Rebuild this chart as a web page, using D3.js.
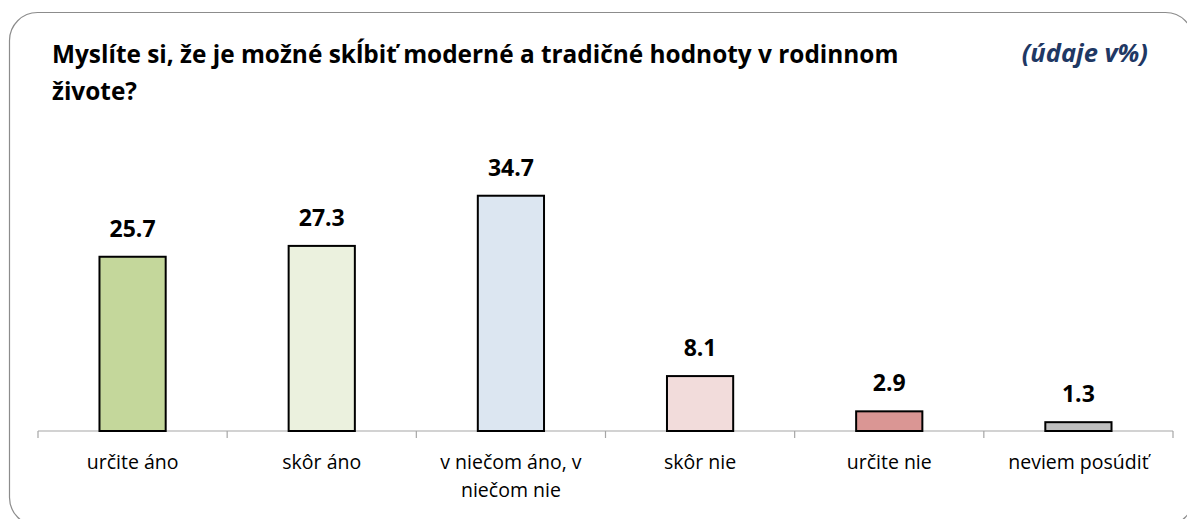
<!DOCTYPE html>
<html>
<head>
<meta charset="utf-8">
<script src="https://cdn.jsdelivr.net/npm/d3@7"></script>
<style>
  body { margin: 0; background: #fff; }
  svg { display: block; }
</style>
</head>
<body>
<script>
// dáta grafu
var kategorie = ["určite áno", "skôr áno", "v niečom áno, v niečom nie", "skôr nie", "určite nie", "neviem posúdiť"];
var hodnoty = [25.7, 27.3, 34.7, 8.1, 2.9, 1.3];
var farby = ["#C4D79B", "#EBF1DE", "#DCE6F1", "#F2DCDB", "#DA9694", "#BFBFBF"];
var nadpis = ["Myslíte si, že je možné skĺbiť moderné a tradičné hodnoty v rodinnom", "živote?"];
var poznamka = "(údaje v%)";

var ancho = 1187, alto = 519;
var pismo = "'Open Sans', sans-serif";

var svg = d3.select("body")
  .append("svg")
  .attr("width", ancho)
  .attr("height", alto);

// rámik
svg.append("rect")
  .attr("x", 9.5).attr("y", 12.5)
  .attr("width", 1184).attr("height", 513)
  .attr("rx", 28).attr("ry", 28)
  .attr("fill", "#fff")
  .attr("stroke", "#8c8c8c")
  .attr("stroke-width", 1.2);

// nadpis
svg.append("text")
  .attr("font-family", pismo)
  .attr("font-weight", "bold")
  .attr("font-size", 24.4)
  .attr("fill", "#000")
  .selectAll("tspan")
  .data(nadpis)
  .enter()
  .append("tspan")
  .attr("x", 52)
  .attr("y", function(d, i) { return 63 + i * 37; })
  .text(function(d) { return d; });

svg.append("text")
  .attr("x", 1148).attr("y", 62)
  .attr("text-anchor", "end")
  .attr("font-family", pismo)
  .attr("font-weight", "bold")
  .attr("font-style", "italic")
  .attr("font-size", 25.5)
  .attr("fill", "#1F3864")
  .text(poznamka);

// mierky
var x = d3.scaleBand()
  .domain(kategorie)
  .range([38, 1173])
  .paddingInner(0.65)
  .paddingOuter(0.325);

var y = d3.scaleLinear()
  .domain([0, 40])
  .range([431, 431 - 40 * 6.78]);

// os x
var osX = svg.append("g")
  .attr("transform", "translate(0,431)");

osX.append("line")
  .attr("x1", 38).attr("x2", 1173)
  .attr("stroke", "#a6a6a6").attr("stroke-width", 1.2);

var krok = (1173 - 38) / kategorie.length;
osX.selectAll("line.tick")
  .data(d3.range(kategorie.length + 1))
  .enter()
  .append("line")
  .attr("class", "tick")
  .attr("x1", function(d) { return 38 + d * krok; })
  .attr("x2", function(d) { return 38 + d * krok; })
  .attr("y1", 0).attr("y2", 7)
  .attr("stroke", "#a6a6a6").attr("stroke-width", 1.2);

// stĺpce
svg.selectAll("rect.bar")
  .data(hodnoty)
  .enter()
  .append("rect")
  .attr("class", "bar")
  .attr("x", function(d, i) { return x(kategorie[i]); })
  .attr("y", function(d) { return y(d); })
  .attr("width", x.bandwidth())
  .attr("height", function(d) { return y(0) - y(d); })
  .attr("fill", function(d, i) { return farby[i]; })
  .attr("stroke", "#000")
  .attr("stroke-width", 2);

// hodnoty nad stĺpcami
svg.selectAll("text.hodnota")
  .data(hodnoty)
  .enter()
  .append("text")
  .attr("class", "hodnota")
  .attr("x", function(d, i) { return x(kategorie[i]) + x.bandwidth() / 2; })
  .attr("y", function(d) { return y(d) - 20; })
  .attr("text-anchor", "middle")
  .attr("font-family", pismo)
  .attr("font-weight", "bold")
  .attr("font-size", 23)
  .attr("fill", "#000")
  .text(function(d) { return d.toFixed(1); });

// popisky kategórií (zalomenie ako v origináli)
var riadky = [["určite áno"], ["skôr áno"], ["v niečom áno, v", "niečom nie"], ["skôr nie"], ["určite nie"], ["neviem posúdiť"]];

svg.selectAll("text.kat")
  .data(kategorie)
  .enter()
  .append("text")
  .attr("class", "kat")
  .attr("text-anchor", "middle")
  .attr("font-family", pismo)
  .attr("font-size", 19.5)
  .attr("fill", "#000")
  .each(function(d, i) {
    var t = d3.select(this);
    var cx = x(d) + x.bandwidth() / 2;
    riadky[i].forEach(function(r, j) {
      t.append("tspan")
        .attr("x", cx)
        .attr("y", 469 + j * 28)
        .text(r);
    });
  });
</script>
</body>
</html>
